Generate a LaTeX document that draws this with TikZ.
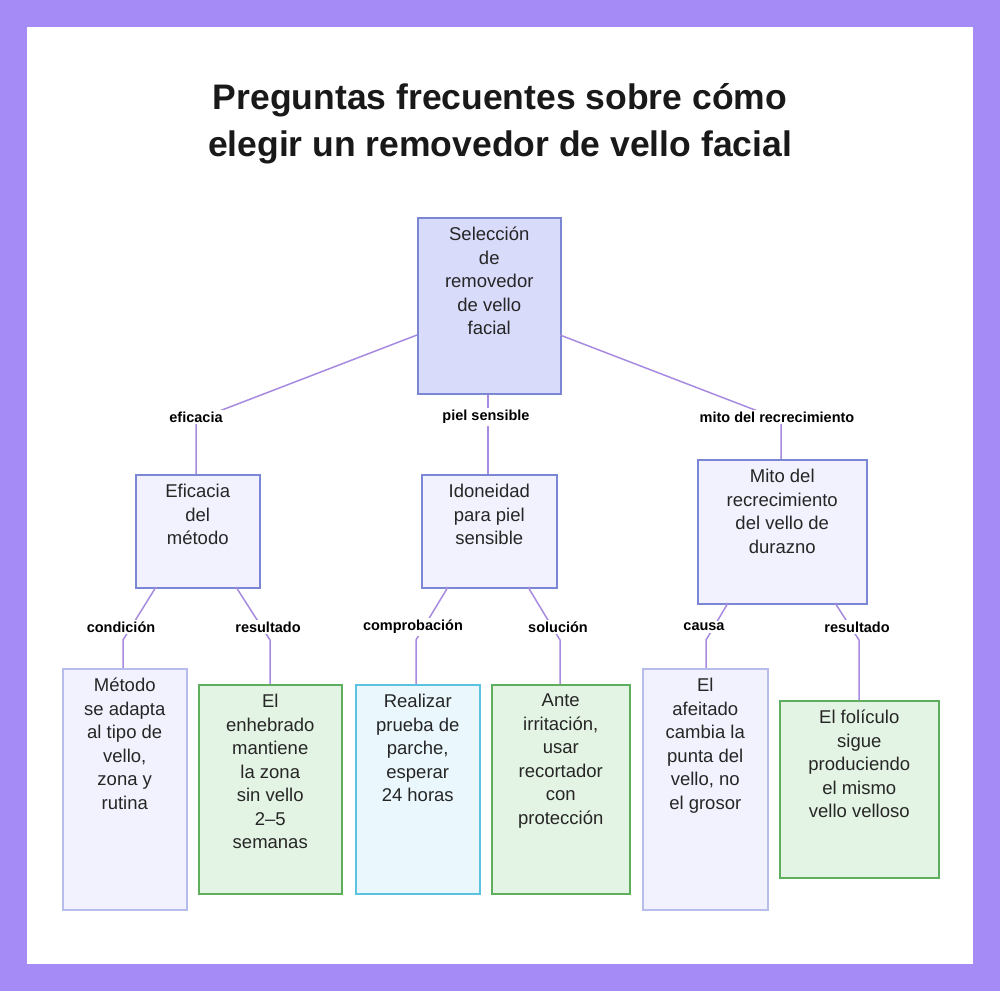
\documentclass[tikz,border=0pt]{standalone}
\usepackage{fontspec}
\setmainfont{Liberation Sans}
\usetikzlibrary{calc}
\definecolor{bgp}{HTML}{A48BF5}
\definecolor{edge}{HTML}{A68BE0}
\definecolor{rootf}{HTML}{D9DBFB}
\definecolor{rootd}{HTML}{7B86D4}
\definecolor{lavf}{HTML}{F1F2FD}
\definecolor{lavd}{HTML}{B7BDEA}
\definecolor{grf}{HTML}{E4F4E4}
\definecolor{grd}{HTML}{5DAE5D}
\definecolor{cyf}{HTML}{EAF7FD}
\definecolor{cyd}{HTML}{5BC2E0}
\definecolor{txt}{HTML}{262626}
\begin{document}
\begin{tikzpicture}[x=1pt,y=-1pt,
  box/.style={draw=#1, line width=1.5pt, anchor=north west, inner sep=0pt},
  tx/.style={anchor=north, inner sep=0pt, align=center, text=txt, font=\fontsize{18.5}{23.5}\selectfont},
  lab/.style={font=\bfseries\fontsize{14.5}{16}\selectfont, fill=white, inner sep=2pt, text=black},
  ln/.style={draw=edge, line width=1.5pt}]
\useasboundingbox (0,0) rectangle (1000,991);
\fill[bgp] (0,0) rectangle (1000,991);
\fill[white] (27,27) rectangle (973,964);
\node[font=\bfseries\fontsize{35.5}{47}\selectfont, align=center, text=black!90] (title) at (500,124) {Preguntas frecuentes sobre cómo\\elegir un removedor de vello facial};
% boxes
\node[box=rootd, fill=rootf, minimum width=143, minimum height=176] (R) at (417,217) {};
\node[box=rootd, fill=lavf, minimum width=124, minimum height=113] (A) at (135,474) {};
\node[box=rootd, fill=lavf, minimum width=135, minimum height=113] (B) at (421,474) {};
\node[box=rootd, fill=lavf, minimum width=169, minimum height=144] (C) at (697,459) {};
\node[box=lavd, fill=lavf, minimum width=124, minimum height=241] (L1) at (62,668) {};
\node[box=grd, fill=grf, minimum width=143, minimum height=209] (L2) at (198,684) {};
\node[box=cyd, fill=cyf, minimum width=124, minimum height=209] (L3) at (355,684) {};
\node[box=grd, fill=grf, minimum width=138, minimum height=209] (L4) at (491,684) {};
\node[box=lavd, fill=lavf, minimum width=125, minimum height=241] (L5) at (642,668) {};
\node[box=grd, fill=grf, minimum width=159, minimum height=177] (L6) at (779,700) {};
% texts
\node[tx] (Rt) at ($(R.north)+(0,10)$) {Selección\\de\\removedor\\de vello\\facial};
\node[tx] (At) at ($(A.north)+(0,10)$) {Eficacia\\del\\método};
\node[tx] (Bt) at ($(B.north)+(0,10)$) {Idoneidad\\para piel\\sensible};
\node[tx] (Ct) at ($(C.north)+(0,10)$) {Mito del\\recrecimiento\\del vello de\\durazno};
\node[tx] (L1t) at ($(L1.north)+(0,10)$) {Método\\se adapta\\al tipo de\\vello,\\zona y\\rutina};
\node[tx] (L2t) at ($(L2.north)+(0,10)$) {El\\enhebrado\\mantiene\\la zona\\sin vello\\2–5\\semanas};
\node[tx] (L3t) at ($(L3.north)+(0,10)$) {Realizar\\prueba de\\parche,\\esperar\\24 horas};
\node[tx] (L4t) at ($(L4.north)+(0,10)$) {Ante\\irritación,\\usar\\recortador\\con\\protección};
\node[tx] (L5t) at ($(L5.north)+(0,10)$) {El\\afeitado\\cambia la\\punta del\\vello, no\\el grosor};
\node[tx] (L6t) at ($(L6.north)+(0,10)$) {El folículo\\sigue\\produciendo\\el mismo\\vello velloso};
% edges level 1
\coordinate (r1) at (417,335);
\coordinate (r3) at (560,335);
\coordinate (k1) at (196,420);
\coordinate (k2) at (488,420);
\coordinate (k3) at (781,420);
\draw[ln] (r1) -- (k1) -- (k1 |- A.north);
\draw[ln] (k2 |- R.south) -- (k2 |- B.north);
\draw[ln] (r3) -- (k3) -- (k3 |- C.north);
\node[lab] (e1) at (196,417) {eficacia};
\node[lab] (e2) at (486,417) {piel sensible};
\node[lab] (e3) at (777,417) {mito del recrecimiento};
% edges level 2
\coordinate (a1) at (156,587); \coordinate (q1) at (123,640);
\coordinate (a2) at (236,587); \coordinate (q2) at (270,640);
\coordinate (b1) at (448,587); \coordinate (q3) at (416,640);
\coordinate (b2) at (528,587); \coordinate (q4) at (560,640);
\coordinate (c1) at (728,603); \coordinate (q5) at (706,640);
\coordinate (c2) at (835,603); \coordinate (q6) at (859,640);
\draw[ln] (a1) -- (q1) -- (q1 |- L1.north);
\draw[ln] (a2) -- (q2) -- (q2 |- L2.north);
\draw[ln] (b1) -- (q3) -- (q3 |- L3.north);
\draw[ln] (b2) -- (q4) -- (q4 |- L4.north);
\draw[ln] (c1) -- (q5) -- (q5 |- L5.north);
\draw[ln] (c2) -- (q6) -- (q6 |- L6.north);
\node[lab] (f1) at (121,627) {condición};
\node[lab] (f2) at (268,627) {resultado};
\node[lab] (f3) at (413,627) {comprobación};
\node[lab] (f4) at (558,627) {solución};
\node[lab] (f5) at (704,627) {causa};
\node[lab] (f6) at (857,627) {resultado};
\end{tikzpicture}
\end{document}
